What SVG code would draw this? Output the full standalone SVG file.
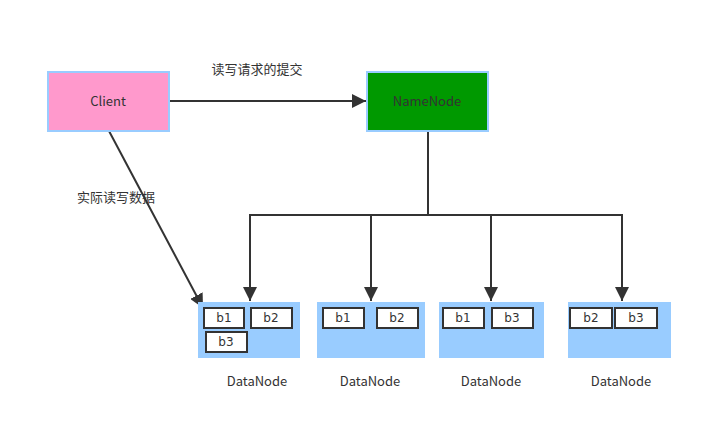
<svg xmlns="http://www.w3.org/2000/svg" width="706" height="427" viewBox="0 0 706 427">
<style>
text{font-family:"Noto Sans CJK SC","Liberation Sans",sans-serif;font-size:13px;fill:#333}
.blk{fill:#fff;stroke:#333;stroke-width:2}
.blk-t{font-family:"DejaVu Sans",sans-serif;font-size:12px;text-anchor:middle}
.dn{fill:#99ccff}
.ln{stroke:#333;stroke-width:2;fill:none}
.lbl{text-anchor:middle}
</style>
<defs>
<marker id="ah2" viewBox="0 0 10 10" refX="10" refY="5" markerWidth="7" markerHeight="7" orient="auto" markerUnits="strokeWidth">
<path d="M0,0L10,5L0,10z" fill="#333"/>
</marker>
</defs>
<rect width="706" height="427" fill="#fff"/>
<g id="connectors">
<line class="ln" x1="170" y1="101" x2="366" y2="101" marker-end="url(#ah2)"/>
<polyline class="ln" points="428,131 428,215"/>
<line class="ln" x1="249" y1="215" x2="623" y2="215"/>
<line class="ln" x1="250" y1="215" x2="250" y2="301" marker-end="url(#ah2)"/>
<line class="ln" x1="371" y1="215" x2="371" y2="301" marker-end="url(#ah2)"/>
<line class="ln" x1="491" y1="215" x2="491" y2="301" marker-end="url(#ah2)"/>
<line class="ln" x1="622" y1="215" x2="622" y2="301" marker-end="url(#ah2)"/>
<line class="ln" x1="109" y1="131" x2="203" y2="308" marker-end="url(#ah2)"/>
<text x="257" y="74" class="lbl">读写请求的提交</text>
<text x="116" y="202" class="lbl">实际读写数据</text>
</g>
<g id="client">
<rect x="48" y="72" width="121" height="59" fill="#ff99cc" stroke="#99ccff" stroke-width="2"/>
<text x="108" y="106" class="lbl">Client</text>
</g>
<g id="namenode">
<rect x="367" y="72" width="121" height="59" fill="#009900" stroke="#99ccff" stroke-width="2"/>
<text x="427" y="106" class="lbl">NameNode</text>
</g>
<g id="datanode1">
<rect class="dn" x="198" y="302" width="102" height="56"/>
<rect class="blk" x="204" y="308" width="40" height="20"/><text class="blk-t" x="224" y="322">b1</text>
<rect class="blk" x="251" y="308" width="41" height="20"/><text class="blk-t" x="271" y="322">b2</text>
<rect class="blk" x="206" y="332" width="41" height="20"/><text class="blk-t" x="226" y="346">b3</text>
<text x="257" y="386" class="lbl">DataNode</text>
</g>
<g id="datanode2">
<rect class="dn" x="317" y="302" width="108" height="56"/>
<rect class="blk" x="323" y="308" width="41" height="20"/><text class="blk-t" x="343" y="322">b1</text>
<rect class="blk" x="377" y="308" width="41" height="20"/><text class="blk-t" x="397" y="322">b2</text>
<text x="370" y="386" class="lbl">DataNode</text>
</g>
<g id="datanode3">
<rect class="dn" x="439" y="302" width="105" height="56"/>
<rect class="blk" x="443" y="308" width="41" height="20"/><text class="blk-t" x="463" y="322">b1</text>
<rect class="blk" x="492" y="308" width="41" height="20"/><text class="blk-t" x="512" y="322">b3</text>
<text x="491" y="386" class="lbl">DataNode</text>
</g>
<g id="datanode4">
<rect class="dn" x="568" y="302" width="103" height="56"/>
<rect class="blk" x="570" y="308" width="42" height="20"/><text class="blk-t" x="591" y="322">b2</text>
<rect class="blk" x="615" y="308" width="42" height="20"/><text class="blk-t" x="636" y="322">b3</text>
<text x="621" y="386" class="lbl">DataNode</text>
</g>
</svg>
